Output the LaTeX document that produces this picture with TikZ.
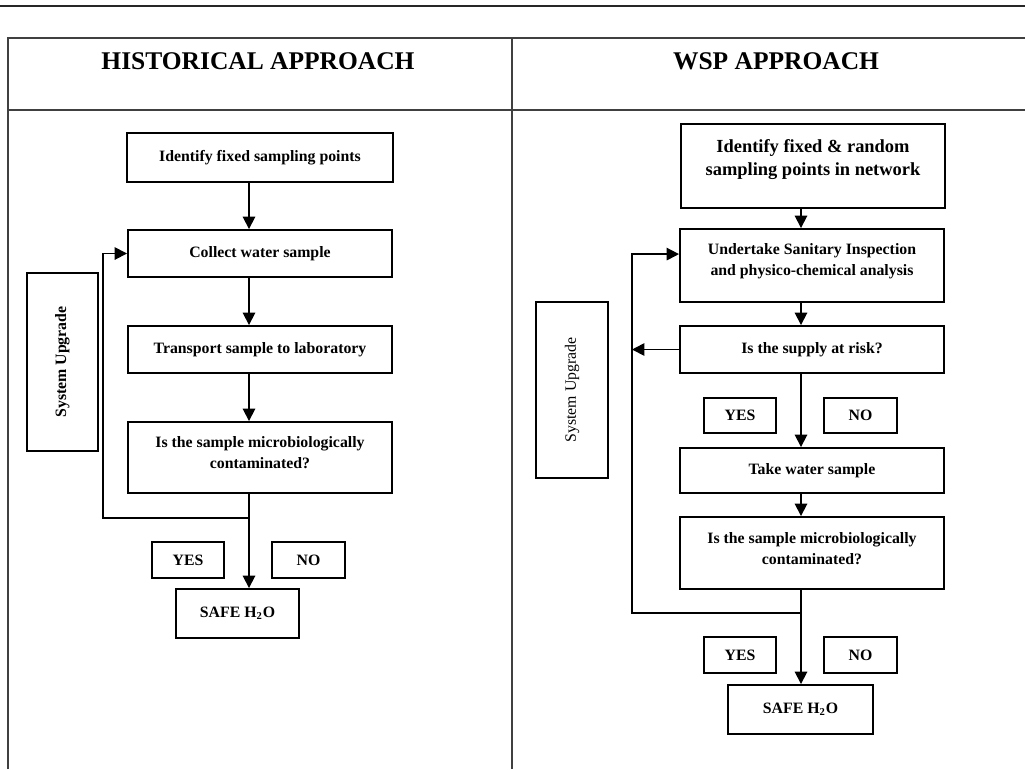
\documentclass[tikz,border=0pt]{standalone}
\usepackage{fontspec}
\setmainfont{Liberation Serif}
\usepackage{tikz}
\usetikzlibrary{arrows.meta}
\usetikzlibrary{positioning}
\tikzset{arr/.style = {-{Triangle[width = 7pt, length = 7pt]}, line width = 1pt}}
\tikzset{box/.style = {draw, line width = 1.1pt, inner sep = 2pt, align = center,
                       font = \bfseries\fontsize{9}{11.5}\selectfont}}
\tikzset{hdr/.style = {font = \bfseries\fontsize{14.5}{17}\selectfont}}
\tikzset{rule/.style = {line width = 0.8pt, black!75}}

\begin{document}
\begin{tikzpicture}[x = 0.02cm, y = -0.02cm]
    \useasboundingbox (0, 0) rectangle (1025, 769);

    % table
    \draw [line width = 1pt, black!85] (0, 6) -- (1025, 6);
    \draw [rule] (8, 769) -- (8, 38) -- (1025, 38);
    \draw [rule] (8, 110) -- (1025, 110);
    \draw [rule] (512, 38) -- (512, 769);
    \node [hdr] (hHist) at (258, 61) {HISTORICAL APPROACH};
    \node [hdr] (hWsp) at (776, 61) {WSP APPROACH};

    % historical approach
    \node [box, minimum width = 266*0.02cm, minimum height = 49*0.02cm] (lIdent) at (260, 157.5) {Identify fixed sampling points};
    \node [box, minimum width = 264*0.02cm, minimum height = 47*0.02cm] (lCollect) at (260, 253.5) {Collect water sample};
    \node [box, minimum width = 264*0.02cm, minimum height = 47*0.02cm] (lTransport) at (260, 349.5) {Transport sample to laboratory};
    \node [box, minimum width = 264*0.02cm, minimum height = 71*0.02cm] (lContam) at (260, 457.5) {Is the sample microbiologically\\contaminated?\\[-5.8pt]};
    \node [box, rotate = 90, minimum width = 178*0.02cm, minimum height = 71*0.02cm] (lUpgrade) at (62.5, 362) {System Upgrade};
    \node [box, minimum width = 72*0.02cm, minimum height = 36*0.02cm] (lYes) at (188, 560) {YES};
    \node [box, minimum width = 73*0.02cm, minimum height = 36*0.02cm] (lNo) at (308.5, 560) {NO};
    \node [box, minimum width = 123*0.02cm, minimum height = 49*0.02cm] (lSafe) at (237.5, 613.5) {SAFE H\textsubscript{2}O};

    \coordinate (lSpine) at (249, 0);
    \coordinate (lLoop) at (103, 518);
    \draw [arr] (lIdent.south -| lSpine) -- (lCollect.north -| lSpine);
    \draw [arr] (lCollect.south -| lSpine) -- (lTransport.north -| lSpine);
    \draw [arr] (lTransport.south -| lSpine) -- (lContam.north -| lSpine);
    \draw [arr] (lContam.south -| lSpine) -- (lSafe.north -| lSpine);
    \draw [arr] (lContam.south -| lSpine) -- (lSpine |- lLoop) -- (lLoop) |- (lCollect.west);

    % wsp approach
    \node [box, font = \bfseries\fontsize{10.5}{13}\selectfont, minimum width = 264*0.02cm, minimum height = 84*0.02cm] (rIdent) at (813, 166) {Identify fixed \& random\\sampling points in network\\[-3.4pt]};
    \node [box, minimum width = 264*0.02cm, minimum height = 73*0.02cm] (rInspect) at (812, 265.5) {Undertake Sanitary Inspection\\and physico-chemical analysis\\[-4.7pt]};
    \node [box, minimum width = 264*0.02cm, minimum height = 47*0.02cm] (rRisk) at (812, 349.5) {Is the supply at risk?};
    \node [box, minimum width = 72*0.02cm, minimum height = 35*0.02cm] (rYes) at (740, 415.5) {YES};
    \node [box, minimum width = 73*0.02cm, minimum height = 35*0.02cm] (rNo) at (860.5, 415.5) {NO};
    \node [box, minimum width = 264*0.02cm, minimum height = 45*0.02cm] (rTake) at (812, 470.5) {Take water sample};
    \node [box, minimum width = 264*0.02cm, minimum height = 72*0.02cm] (rContam) at (812, 553) {Is the sample microbiologically\\contaminated?\\[-6.4pt]};
    \node [box, minimum width = 72*0.02cm, minimum height = 36*0.02cm] (rYes2) at (740, 655) {YES};
    \node [box, minimum width = 73*0.02cm, minimum height = 36*0.02cm] (rNo2) at (860.5, 655) {NO};
    \node [box, minimum width = 145*0.02cm, minimum height = 49*0.02cm] (rSafe) at (800.5, 709.5) {SAFE H\textsubscript{2}O};
    \node [box, line width = 0.9pt, font = \fontsize{9}{11}\selectfont, rotate = 90, minimum width = 176*0.02cm, minimum height = 72*0.02cm] (rUpgrade) at (572, 390) {System Upgrade};

    \coordinate (rSpine) at (801, 0);
    \coordinate (rLoop) at (632, 613);
    \draw [arr] (rIdent.south -| rSpine) -- (rInspect.north -| rSpine);
    \draw [arr] (rInspect.south -| rSpine) -- (rRisk.north -| rSpine);
    \draw [arr] (rRisk.south -| rSpine) -- (rTake.north -| rSpine);
    \draw [arr] (rTake.south -| rSpine) -- (rContam.north -| rSpine);
    \draw [arr] (rContam.south -| rSpine) -- (rSafe.north -| rSpine);
    \draw [arr] (rContam.south -| rSpine) -- (rSpine |- rLoop) -- (rLoop) |- ([yshift = 6.5pt] rInspect.west);
    \draw [arr] (rRisk.west) -- (rRisk.west -| rLoop);
  \end{tikzpicture}
\end{document}
